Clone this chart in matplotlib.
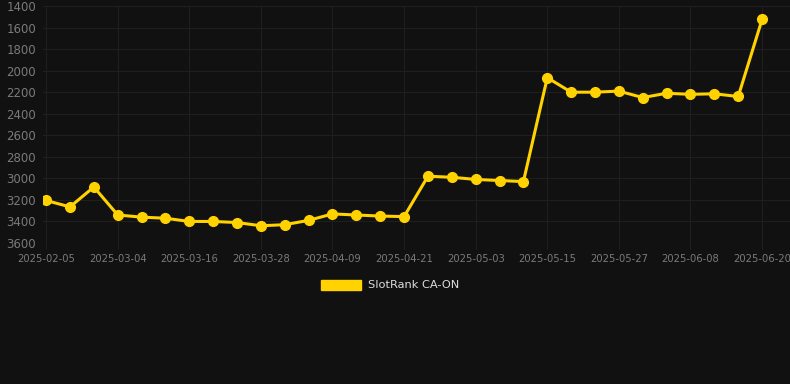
import matplotlib
matplotlib.use("Agg")
import matplotlib.pyplot as plt
from matplotlib.patches import Patch

# data (rank, lower is better -> inverted axis)
dates = ["2025-02-05", "2025-02-14", "2025-02-23", "2025-03-04", "2025-03-08",
         "2025-03-12", "2025-03-16", "2025-03-20", "2025-03-24", "2025-03-28",
         "2025-04-01", "2025-04-05", "2025-04-09", "2025-04-13", "2025-04-17",
         "2025-04-21", "2025-04-25", "2025-04-29", "2025-05-03", "2025-05-07",
         "2025-05-11", "2025-05-15", "2025-05-19", "2025-05-23", "2025-05-27",
         "2025-05-31", "2025-06-04", "2025-06-08", "2025-06-12", "2025-06-16",
         "2025-06-20"]
ranks = [3205, 3265, 3080, 3340, 3360, 3370, 3400, 3400, 3410, 3440,
         3430, 3390, 3330, 3340, 3350, 3355, 2980, 2990, 3010, 3020,
         3030, 2065, 2200, 2200, 2190, 2250, 2210, 2220, 2215, 2240,
         1525]
y_ticks = [1400, 1600, 1800, 2000, 2200, 2400, 2600, 2800, 3000, 3200, 3400, 3600]
series_name = "SlotRank CA-ON"

bg = "#111111"
gold = "#FFD200"
grid_col = "#202020"
tick_col = "#7a7a7a"

fig = plt.figure(figsize=(7.9, 3.84), dpi=100, facecolor=bg)
ax = fig.add_axes([43 / 790, 141 / 384, 747 / 790, 237 / 384], facecolor=bg)

x = list(range(len(dates)))
ax.plot(x, ranks, color=gold, linewidth=2.2, marker="o", markersize=7,
        markerfacecolor=gold, markeredgecolor=gold, zorder=3)

ax.set_xlim(-0.13, len(dates) - 1 + 1.17)
ax.set_ylim(3600, 1400)

ax.set_yticks(y_ticks)
ax.set_yticklabels([str(v) for v in y_ticks])
ax.set_xticks(x[::3])
ax.set_xticklabels(dates[::3])

ax.grid(True, color=grid_col, linewidth=0.7)
ax.set_axisbelow(True)
for s in ax.spines.values():
    s.set_visible(False)

ax.tick_params(axis="y", length=0, pad=5, labelsize=8.5, labelcolor=tick_col)
ax.tick_params(axis="x", length=4, color=grid_col, pad=4, labelsize=7.2,
               labelcolor=tick_col)

# legend centered under the plot
handle = Patch(facecolor=gold, edgecolor=gold, label=series_name)
fig.legend(handles=[handle], loc="center", bbox_to_anchor=(390 / 790, 1 - 285 / 384),
           frameon=False, fontsize=8.2, labelcolor="#dddddd",
           handlelength=3.5, handleheight=1.0, handletextpad=0.6)

fig.savefig("out.png", dpi=100, facecolor=bg)
